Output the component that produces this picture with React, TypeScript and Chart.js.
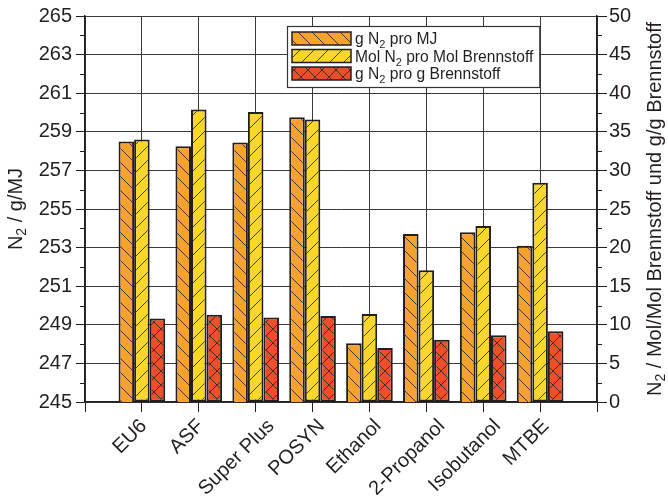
import React, { useEffect, useRef } from 'react';
import { Chart, registerables } from 'chart.js';
Chart.register(...registerables);

const categories = ['EU6', 'ASF', 'Super Plus', 'POSYN', 'Ethanol', '2-Propanol', 'Isobutanol', 'MTBE'];
const gN2proMJ = [258.5, 258.25, 258.45, 259.75, 248.05, 253.7, 253.8, 253.1];
const molN2proMolBrennstoff = [34.0, 37.9, 37.55, 36.6, 11.4, 17.05, 22.8, 28.4];
const gN2proGBrennstoff = [10.8, 11.3, 10.95, 11.15, 7.0, 8.05, 8.65, 9.15];
const seriesNames = ['g N₂ pro MJ', 'Mol N₂ pro Mol Brennstoff', 'g N₂ pro g Brennstoff'];
const leftAxis = { min: 245, max: 265, step: 2 };
const rightAxis = { min: 0, max: 50, step: 5 };
const leftTitle = 'N₂ / g/MJ';
const rightTitle = 'N₂ / Mol/Mol Brennstoff und g/g Brennstoff';

const FONT = '"Liberation Sans", Arial, Helvetica, sans-serif';
const INK = '#231f20';
const COLORS = ['#f6a22f', '#fdd62b', '#ee4e29'];

function makePattern(bg: string, kind: 'back' | 'fwd' | 'cross') {
  const s = 14;
  const c = document.createElement('canvas');
  c.width = s; c.height = s;
  const g = c.getContext('2d')!;
  g.fillStyle = bg;
  g.fillRect(0, 0, s, s);
  g.strokeStyle = '#2a2a2a';
  g.lineWidth = 0.9;
  const back = () => {
    g.beginPath();
    g.moveTo(-2, -2); g.lineTo(s + 2, s + 2);
    g.moveTo(s - 2, -2); g.lineTo(s + 2, 2);
    g.moveTo(-2, s - 2); g.lineTo(2, s + 2);
    g.stroke();
  };
  const fwd = () => {
    g.beginPath();
    g.moveTo(-2, s + 2); g.lineTo(s + 2, -2);
    g.moveTo(-2, 2); g.lineTo(2, -2);
    g.moveTo(s - 2, s + 2); g.lineTo(s + 2, s - 2);
    g.stroke();
  };
  if (kind === 'back' || kind === 'cross') back();
  if (kind === 'fwd' || kind === 'cross') fwd();
  return g.createPattern(c, 'repeat')!;
}

function richWidth(ctx: CanvasRenderingContext2D, text: string, size: number) {
  const parts = text.split('₂');
  let w = 0;
  parts.forEach((p, i) => {
    ctx.font = `${size}px ${FONT}`;
    w += ctx.measureText(p).width;
    if (i < parts.length - 1) {
      ctx.font = `${Math.round(size * 0.68)}px ${FONT}`;
      w += ctx.measureText('2').width;
    }
  });
  return w;
}

function drawRich(ctx: CanvasRenderingContext2D, text: string, x: number, y: number, size: number) {
  const parts = text.split('₂');
  let cx = x;
  ctx.textBaseline = 'middle';
  ctx.textAlign = 'left';
  parts.forEach((p, i) => {
    ctx.font = `${size}px ${FONT}`;
    ctx.fillText(p, cx, y);
    cx += ctx.measureText(p).width;
    if (i < parts.length - 1) {
      ctx.font = `${Math.round(size * 0.68)}px ${FONT}`;
      ctx.fillText('2', cx, y + size * 0.32);
      cx += ctx.measureText('2').width;
    }
  });
}

export default function App() {
  const ref = useRef<HTMLCanvasElement | null>(null);
  useEffect(() => {
    const canvas = ref.current!;
    const patterns = [
      makePattern(COLORS[0], 'back'),
      makePattern(COLORS[1], 'fwd'),
      makePattern(COLORS[2], 'cross'),
    ];
    const labels = ['', ...categories, ''];
    const pad = (arr: number[]) => [null, ...arr, null];

    const decorPlugin = {
      id: 'decor',
      afterDraw(chart: any) {
        const ctx: CanvasRenderingContext2D = chart.ctx;
        const area = chart.chartArea;
        const xs = chart.scales.x;
        const ys = chart.scales.y;
        const yr = chart.scales.y1;
        ctx.save();
        // minor ticks
        ctx.strokeStyle = INK;
        ctx.lineWidth = 1;
        ctx.beginPath();
        for (let v = leftAxis.min + leftAxis.step / 2; v < leftAxis.max; v += leftAxis.step) {
          const py = Math.round(ys.getPixelForValue(v)) + 0.5;
          ctx.moveTo(area.left - 5, py); ctx.lineTo(area.left, py);
        }
        for (let v = rightAxis.min + rightAxis.step / 2; v < rightAxis.max; v += rightAxis.step) {
          const py = Math.round(yr.getPixelForValue(v)) + 0.5;
          ctx.moveTo(area.right, py); ctx.lineTo(area.right + 5, py);
        }
        ctx.stroke();

        // rotated category labels
        ctx.fillStyle = INK;
        ctx.font = `20px ${FONT}`;
        categories.forEach((c, i) => {
          const tx = xs.getPixelForValue(i + 1);
          const w = ctx.measureText(c).width;
          ctx.save();
          ctx.translate(tx + 0.23 * w - 7, area.bottom + 21);
          ctx.rotate(-Math.PI / 4);
          ctx.textAlign = 'right';
          ctx.textBaseline = 'middle';
          ctx.fillText(c, 0, 0);
          ctx.restore();
        });

        // axis titles
        const cy = (area.top + area.bottom) / 2;
        const tSize = 20;
        ctx.save();
        ctx.translate(16, cy);
        ctx.rotate(-Math.PI / 2);
        drawRich(ctx, leftTitle, -richWidth(ctx, leftTitle, tSize) / 2, 0, tSize);
        ctx.restore();
        ctx.save();
        ctx.translate(655, cy);
        ctx.rotate(-Math.PI / 2);
        drawRich(ctx, rightTitle, -richWidth(ctx, rightTitle, tSize) / 2, 0, tSize);
        ctx.restore();

        // legend
        const lSize = 15.6;
        const bx = area.left + 202;
        const by = area.top + 10;
        const swW = 59, swH = 13, rowH = 17.5;
        let maxW = 0;
        seriesNames.forEach((n) => { maxW = Math.max(maxW, richWidth(ctx, n, lSize)); });
        const bw = 5 + swW + 4 + maxW + 6;
        const bh = 61;
        ctx.fillStyle = '#ffffff';
        ctx.fillRect(bx, by, bw, bh);
        ctx.strokeStyle = '#333';
        ctx.lineWidth = 1.2;
        ctx.strokeRect(bx + 0.5, by + 0.5, bw, bh);
        seriesNames.forEach((n, i) => {
          const rcy = by + 12.5 + i * rowH;
          ctx.fillStyle = patterns[i];
          ctx.fillRect(bx + 5, rcy - swH / 2, swW, swH);
          ctx.strokeStyle = INK;
          ctx.lineWidth = 1.5;
          ctx.strokeRect(bx + 5, rcy - swH / 2, swW, swH);
          ctx.fillStyle = INK;
          drawRich(ctx, n, bx + 5 + swW + 4, rcy + 1.5, lSize);
        });
        ctx.restore();
      },
    };

    const common = {
      borderColor: INK,
      borderWidth: 2,
      borderSkipped: false,
      categoryPercentage: 0.82,
      barPercentage: 1,
    };

    const chart = new Chart(canvas, {
      type: 'bar',
      data: {
        labels,
        datasets: [
          { label: seriesNames[0], data: pad(gN2proMJ), backgroundColor: patterns[0], yAxisID: 'y', ...common },
          { label: seriesNames[1], data: pad(molN2proMolBrennstoff), backgroundColor: patterns[1], yAxisID: 'y1', ...common },
          { label: seriesNames[2], data: pad(gN2proGBrennstoff), backgroundColor: patterns[2], yAxisID: 'y1', ...common },
        ] as any,
      },
      options: {
        responsive: false,
        animation: false,
        layout: { padding: { top: 12, left: 0, right: 0, bottom: 0 } },
        plugins: { legend: { display: false }, tooltip: { enabled: false } },
        scales: {
          x: {
            type: 'category',
            offset: false,
            grid: { offset: false, color: '#3a3a3a', lineWidth: 1, tickLength: 10, tickColor: INK, drawTicks: true },
            border: { color: INK, width: 1.5 },
            ticks: { display: false, autoSkip: false },
            afterFit: (s: any) => { s.height = 96; },
          },
          y: {
            type: 'linear',
            position: 'left',
            min: leftAxis.min,
            max: leftAxis.max,
            ticks: { stepSize: leftAxis.step, padding: 4, color: INK, font: { family: FONT, size: 20 } },
            grid: { color: '#3a3a3a', lineWidth: 1, tickLength: 9, tickColor: INK },
            border: { color: INK, width: 1.5 },
            afterFit: (s: any) => { s.width = 85; },
          },
          y1: {
            type: 'linear',
            position: 'right',
            min: rightAxis.min,
            max: rightAxis.max,
            ticks: { stepSize: rightAxis.step, padding: 2, color: INK, font: { family: FONT, size: 20 } },
            grid: { drawOnChartArea: false, tickLength: 10, tickColor: INK },
            border: { color: INK, width: 1.5 },
            afterFit: (s: any) => { s.width = 71; },
          },
        },
      } as any,
      plugins: [decorPlugin],
    });
    return () => chart.destroy();
  }, []);

  return (
    <div style={{ position: 'fixed', left: 0, top: 0, width: 668, height: 498, background: '#fff' }}>
      <canvas ref={ref} width={668} height={498} style={{ display: 'block' }} />
    </div>
  );
}
